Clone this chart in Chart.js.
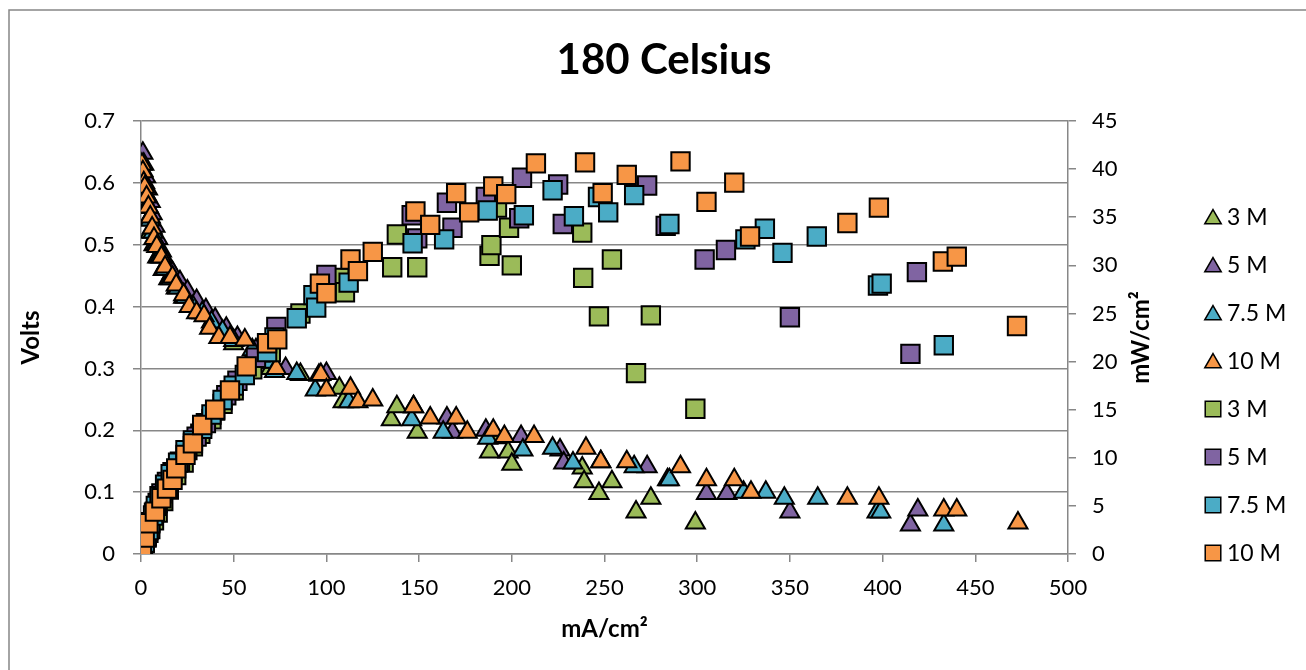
<!DOCTYPE html>
<html>
<head>
<meta charset="utf-8">
<script src="https://cdn.jsdelivr.net/npm/chart.js@4.4.1/dist/chart.umd.min.js"></script>
<style>
  html, body { margin: 0; padding: 0; background: #fff; }
  #wrap { width: 1306px; height: 670px; position: relative; }
</style>
</head>
<body>
<div id="wrap"><canvas id="chart"></canvas></div>
<script>
// series labels, in the order of the legend
const seriesLabels = ['3 M', '5 M', '7.5 M', '10 M', '3 M', '5 M', '7.5 M', '10 M'];
const xTicks = [0, 50, 100, 150, 200, 250, 300, 350, 400, 450, 500];
const voltTicks = [0, 0.1, 0.2, 0.3, 0.4, 0.5, 0.6, 0.7];
const powerTicks = [0, 5, 10, 15, 20, 25, 30, 35, 40, 45];

//////////  cell voltage (V) vs current density (mA/cm2)
const volts3M = [
  [1,0.60],[2,0.58],[3,0.56],[4,0.54],[5,0.52],[7,0.50],[9,0.48],[12,0.46],[15,0.445],[19,0.43],
  [23,0.415],[28,0.40],[32,0.39],[38,0.37],[44,0.355],[50,0.34],[60,0.32],[70,0.30],[86,0.29],
  [107,0.268],[109,0.246],[135,0.217],[138,0.238],[149,0.197],[188,0.165],[192,0.188],[198,0.165],
  [200,0.145],[238,0.139],[239,0.117],[247,0.098],[254,0.117],[267,0.068],[275,0.09],[299,0.05]
];
const volts5M = [
  [1,0.648],[1.5,0.63],[2.5,0.61],[3.5,0.59],[5,0.57],[6,0.55],[7.5,0.53],[9,0.51],[11,0.49],
  [14,0.47],[17,0.455],[21,0.44],[25,0.425],[30,0.41],[35,0.395],[40,0.38],[46,0.365],[52,0.35],
  [62,0.33],[70,0.31],[78,0.30],[100,0.292],[147,0.238],[165,0.22],[168,0.197],[186,0.20],
  [205,0.19],[226,0.168],[228,0.147],[273,0.141],[284,0.12],[305,0.098],[316,0.098],[350,0.068],
  [415,0.047],[419,0.071]
];
const volts75M = [
  [1,0.62],[2,0.60],[3,0.58],[4,0.56],[5,0.54],[6.5,0.52],[8,0.50],[10,0.48],[13,0.46],[16,0.445],
  [20,0.43],[24,0.415],[28,0.40],[33,0.39],[38,0.375],[44,0.36],[50,0.345],[60,0.33],[68,0.31],
  [72,0.295],[84,0.292],[94,0.265],[96,0.289],[112,0.246],[146,0.217],[163,0.197],[187,0.187],
  [206,0.168],[222,0.171],[233,0.147],[248,0.149],[266,0.141],[285,0.12],[325,0.10],[337,0.10],
  [347,0.09],[365,0.09],[397,0.068],[399,0.068],[433,0.047]
];
const volts10M = [
  [0.5,0.63],[1,0.618],[1.5,0.60],[2,0.593],[3,0.577],[4,0.561],[5,0.545],[6,0.527],[7,0.51],
  [8.5,0.497],[11,0.48],[13,0.464],[17,0.448],[19,0.435],[23,0.419],[26,0.40],[30,0.39],[34,0.385],
  [37,0.365],[42,0.35],[48,0.35],[56,0.346],[64,0.32],[73,0.30],[97,0.29],[100,0.265],[113,0.268],
  [117,0.246],[125,0.249],[147,0.238],[156,0.22],[170,0.22],[176,0.197],[190,0.20],[196,0.19],
  [212,0.19],[240,0.171],[248,0.149],[262,0.149],[291,0.141],[305,0.12],[320,0.12],[329,0.10],
  [381,0.09],[398,0.09],[433,0.071],[440,0.071],[473,0.05]
];

//////////  power density (mW/cm2) vs current density (mA/cm2)
const power3M = [
  [1,0.6],[2,1.15],[3,1.7],[4,2.2],[5,2.6],[7,3.5],[9,4.3],[12,5.5],[15,6.7],[19,8.2],[23,9.5],
  [28,11.2],[32,12.5],[38,14],[44,15.6],[50,17],[60,19.2],[70,21],[86,25],[107,28.7],[110,27.2],
  [135.5,29.8],[138,33.2],[149,29.8],[188,31],[189,32.1],[192,36],[198.5,33.9],[200,30],[238,33.4],
  [238.5,28.7],[247,24.7],[254,30.6],[267,18.8],[275,24.8],[299,15.1]
];
const power5M = [
  [1,0.65],[2,1.3],[3,1.9],[4,2.6],[5,3.3],[7,4.3],[9,5.3],[11,6.3],[14,7.5],[17,8.5],[21,9.6],
  [25,10.8],[30,12.2],[35,13.6],[40,14.9],[46,16.5],[52,18],[62,20.4],[73,23.6],[100,29],[146,35.2],
  [149,32.8],[165,36.5],[168,33.9],[186,37.1],[204,34.9],[205.5,39.1],[225,38.4],[227.5,34.3],
  [273,38.3],[283,34.1],[304,30.6],[315.5,31.6],[350,24.6],[415,20.8],[418.5,29.3]
];
const power75M = [
  [1,0.6],[2,1.2],[3,1.8],[4,2.5],[5,3.2],[6.5,4],[8,5],[10,6],[13,7.2],[16,8.3],[20,9.5],[24,10.8],
  [28,11.8],[33,13],[38,14.5],[44,16],[50,17.5],[56,18.6],[68,21],[72,22.5],[84,24.5],[93,26.9],
  [94.5,25.6],[112,28.2],[146.5,32.3],[163.5,32.7],[187,35.7],[206.5,35.2],[222,37.8],[233.5,35.1],
  [246.5,37.1],[252,35.5],[266,37.3],[285,34.3],[326,32.7],[336.5,33.8],[346,31.3],[364.5,33],
  [397.5,27.9],[399.5,28.1],[433,21.7]
];
const power10M = [
  [0.5,0.3],[2,1.7],[4,3.2],[7.5,4.4],[11,5.8],[14,6.8],[17,7.7],[19,8.9],[24,10.3],[28,11.5],
  [33,13.4],[40,15],[48,17],[57,19.5],[68,21.9],[73.5,22.3],[96.5,28.1],[100,27.1],[113,30.6],
  [117,29.4],[125,31.4],[148,35.6],[156,34.2],[170,37.5],[177,35.5],[190,38.2],[197,37.4],
  [213,40.6],[239.5,40.7],[249,37.5],[262,39.4],[291,40.8],[305,36.6],[320,38.6],[328.5,33],
  [381,34.4],[398,36],[432.5,30.4],[440,30.9],[472.5,23.7]
];

const seriesData = [volts3M, volts5M, volts75M, volts10M, power3M, power5M, power75M, power10M];
const seriesColors = ['#9BBB59', '#8064A2', '#4BACC6', '#F79646'];
const FONT = 'Lato, "Open Sans", sans-serif';

//////////

const datasets = seriesData.map((rows, i) => {
  const isVolts = i < 4;
  return {
    label: seriesLabels[i],
    data: rows.map(r => ({ x: r[0], y: r[1] })),
    yAxisID: isVolts ? 'y' : 'y2',
    pointStyle: isVolts ? 'triangle' : 'rect',
    pointRadius: isVolts ? 11 : 13,
    pointHoverRadius: isVolts ? 11 : 13,
    backgroundColor: seriesColors[i % 4],
    borderColor: '#000',
    pointBorderWidth: 2,
    showLine: false,
    order: 8 - i, // later series drawn on top, like the original
  };
});

// frame, right axis title and legend
const extras = {
  id: 'extras',
  afterDraw(chart) {
    const ctx = chart.ctx;
    const area = chart.chartArea;
    ctx.save();
    ctx.strokeStyle = '#868686';
    ctx.lineWidth = 1.5;
    ctx.strokeRect(9, 10, 1400, 700);

    ctx.fillStyle = '#000';
    ctx.font = 'bold 24px ' + FONT;
    ctx.textAlign = 'center';
    ctx.textBaseline = 'middle';
    ctx.translate(1141, (area.top + area.bottom) / 2);
    ctx.rotate(-Math.PI / 2);
    ctx.fillText('mW/cm²', 0, 0);
    ctx.restore();

    ctx.save();
    ctx.font = '23px ' + FONT;
    ctx.textAlign = 'left';
    ctx.textBaseline = 'middle';
    datasets.forEach((ds, i) => {
      const y = 217 + i * 48;
      const tri = ds.pointStyle === 'triangle';
      ctx.fillStyle = ds.backgroundColor;
      ctx.strokeStyle = '#000';
      ctx.lineWidth = 1.5;
      Chart.helpers.drawPoint(ctx, {
        pointStyle: ds.pointStyle,
        radius: tri ? 9.5 : 11,
        rotation: 0,
        borderWidth: 1.5,
      }, 1213, tri ? y + 2 : y);
      ctx.fillStyle = '#000';
      ctx.fillText(ds.label, 1227, y + 1);
    });
    ctx.restore();
  }
};

const gridColor = '#878787';

new Chart(document.getElementById('chart'), {
  type: 'scatter',
  data: { datasets },
  options: {
    responsive: true,
    maintainAspectRatio: false,
    animation: false,
    devicePixelRatio: 1,
    layout: { padding: { left: 22, right: 0, top: 0, bottom: 0 } },
    plugins: {
      legend: { display: false },
      tooltip: { enabled: false },
      title: {
        display: true,
        text: '180 Celsius',
        color: '#000',
        font: { family: FONT, size: 42, weight: 'bold' },
        padding: { top: 35, bottom: 35.6 },
      },
    },
    scales: {
      x: {
        type: 'linear',
        min: 0,
        max: 500,
        afterBuildTicks: s => { s.ticks = xTicks.map(v => ({ value: v })); },
        afterFit: s => { s.height = 116; },
        ticks: { color: '#000', font: { family: FONT, size: 22 }, padding: 13 },
        grid: { drawOnChartArea: false, drawTicks: true, tickLength: 8, color: gridColor, lineWidth: 1.5 },
        border: { color: gridColor, width: 1.5 },
        title: {
          display: true,
          text: 'mA/cm²',
          color: '#000',
          font: { family: FONT, size: 24, weight: 'bold' },
          padding: { top: 0, bottom: 26 },
        },
      },
      y: {
        position: 'left',
        min: 0,
        max: 0.7,
        afterBuildTicks: s => { s.ticks = voltTicks.map(v => ({ value: v })); },
        afterFit: s => { s.width = 119; },
        ticks: { color: '#000', font: { family: FONT, size: 22 }, padding: 18, callback: v => String(Math.round(v * 10) / 10) },
        grid: { color: gridColor, lineWidth: 1.5, tickLength: 8 },
        border: { color: gridColor, width: 1.5 },
        title: {
          display: true,
          text: 'Volts',
          color: '#000',
          font: { family: FONT, size: 24, weight: 'bold' },
          padding: { top: -5, bottom: 0 },
        },
      },
      y2: {
        position: 'right',
        min: 0,
        max: 45,
        afterBuildTicks: s => { s.ticks = powerTicks.map(v => ({ value: v })); },
        afterFit: s => { s.width = 238; },
        ticks: { color: '#000', font: { family: FONT, size: 22 }, padding: 16 },
        grid: { drawOnChartArea: false, color: gridColor, lineWidth: 1.5, tickLength: 8 },
        border: { color: gridColor, width: 1.5 },
      },
    },
  },
  plugins: [extras],
});
</script>
</body>
</html>
